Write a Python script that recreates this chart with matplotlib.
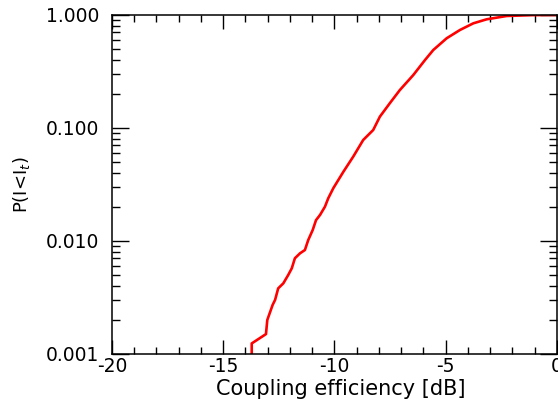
import numpy as np
import matplotlib
matplotlib.use('Agg')
import matplotlib.pyplot as plt
from matplotlib.ticker import MultipleLocator, FixedLocator, LogLocator, NullFormatter, FormatStrFormatter

plt.rcParams['axes.unicode_minus'] = False

# Cumulative distribution (dB, probability)
coupling_db = [-13.72, -13.72, -13.08, -13.02, -12.78, -12.67, -12.53, -12.30,
               -12.08, -11.92, -11.78, -11.55, -11.33, -11.18, -10.98, -10.83,
               -10.65, -10.43, -10.28, -10.05, -9.60, -9.16, -8.71, -8.26,
               -7.96, -7.51, -7.06, -6.46, -5.93, -5.56, -4.96, -4.36,
               -3.76, -3.16, -2.26, -1.08, -0.01]
prob = [0.0008, 0.00124, 0.00150, 0.00200, 0.00272, 0.00301, 0.00381, 0.00422,
        0.00500, 0.00573, 0.00703, 0.00778, 0.00832, 0.0102, 0.0125, 0.0153,
        0.0170, 0.0201, 0.0239, 0.0294, 0.0410, 0.0557, 0.0783, 0.0960,
        0.126, 0.166, 0.217, 0.294, 0.400, 0.490, 0.622, 0.737,
        0.844, 0.916, 0.980, 0.997, 1.0]

fig = plt.figure(figsize=(5.58, 4.03), dpi=100)
ax = fig.add_axes([0.2007, 0.1216, 0.7975, 0.8412])

ax.plot(coupling_db, prob, color='red', linewidth=1.9)

ax.set_yscale('log')
ax.set_xlim(-20, 0)
ax.set_ylim(0.001, 1.0)

ax.xaxis.set_major_locator(MultipleLocator(5))
ax.xaxis.set_minor_locator(MultipleLocator(1))
ax.yaxis.set_major_locator(FixedLocator([0.001, 0.01, 0.1, 1.0]))
ax.yaxis.set_major_formatter(FormatStrFormatter('%.3f'))
ax.yaxis.set_minor_locator(LogLocator(base=10, subs=np.arange(2, 10)))
ax.yaxis.set_minor_formatter(NullFormatter())

for s in ax.spines.values():
    s.set_linewidth(1.1)

ax.tick_params(which='both', direction='in', top=True, right=True, width=1.0)
ax.tick_params(axis='x', which='major', length=10, labelsize=13.5, pad=2)
ax.tick_params(axis='x', which='minor', length=5)
ax.tick_params(axis='y', which='major', length=12, labelsize=13.5, pad=9)
ax.tick_params(axis='y', which='minor', length=6)

ax.set_xlabel('Coupling efficiency [dB]', fontsize=15, labelpad=0)
ax.xaxis.set_label_coords(0.515, -0.075)
ax.set_ylabel(r'P(I<I$_t$)', fontsize=13, labelpad=10)

fig.savefig('out.png', dpi=100)
